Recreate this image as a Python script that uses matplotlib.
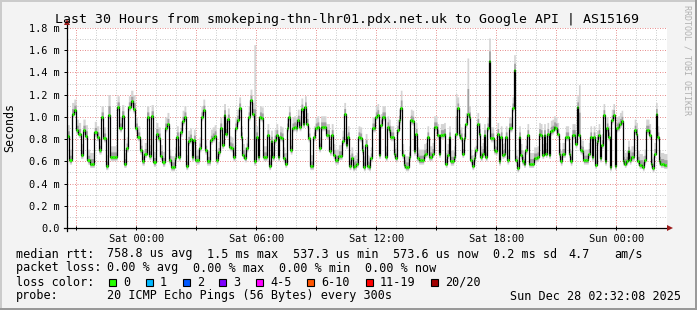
import numpy as np
import pandas as pd
import matplotlib
matplotlib.use('Agg')
import matplotlib.pyplot as plt
import matplotlib.dates as mdates
from matplotlib.lines import Line2D
from matplotlib.patches import Rectangle

W, H = 697, 310
MONO = 'DejaVu Sans Mono'

start = pd.Timestamp('2025-12-26 20:32:08')
end = pd.Timestamp('2025-12-28 02:32:08')

# median rtt in ms, one list per 5 hour block
seg1 = [0.83, 0.61, 1.03, 1.06, 0.88, 0.85, 0.66, 0.88, 0.83, 0.61, 0.58, 0.58, 0.86, 0.82, 0.70,
        1.00, 0.81, 0.56, 1.02, 0.64, 0.64, 0.64, 1.09, 0.90, 1.01, 0.58, 0.72, 1.09, 1.14, 1.07,
        0.90, 0.82, 0.70, 0.60, 0.67, 1.00, 0.65, 1.01, 0.59, 0.85, 0.81, 0.65, 0.59, 0.90]
seg2 = [0.94, 0.61, 0.55, 0.55, 0.63, 0.82, 0.64, 0.86, 0.96, 1.00, 0.56, 0.78, 0.80, 0.64, 0.79,
        0.61, 0.61, 0.72, 1.00, 1.06, 0.70, 0.60, 0.60, 0.79, 0.81, 0.83, 0.61, 0.68, 0.90, 0.75,
        1.02, 0.85, 0.98, 0.73, 0.72, 0.64, 0.90, 0.97, 1.08, 0.82, 0.66, 0.63, 0.72, 1.00, 1.15,
        1.03, 0.60, 0.82, 0.64, 1.00, 0.99, 0.64, 0.64]
seg3 = [0.84, 0.56, 0.78, 0.64, 0.79, 0.84, 0.64, 0.82, 0.81, 0.63, 0.58, 0.90, 1.00, 0.70, 0.90,
        0.91, 0.90, 0.97, 0.91, 1.07, 0.94, 1.09, 0.94, 0.81, 0.56, 0.56, 0.82, 0.90, 0.91, 0.72,
        0.91, 0.91, 0.91, 0.84, 0.84, 0.69, 0.84, 0.66, 0.61, 0.61, 0.65, 0.65, 0.78, 1.03, 0.75,
        0.82, 0.56, 0.63, 0.55, 0.56, 0.58, 0.82, 0.81, 0.70, 0.55, 0.75]
seg4 = [0.56, 0.55, 0.63, 0.90, 0.90, 1.00, 1.02, 0.66, 0.93, 1.00, 1.00, 0.64, 0.91, 0.88, 0.82,
        0.82, 0.67, 0.63, 0.88, 0.97, 1.08, 0.66, 0.57, 0.55, 0.55, 0.64, 0.97, 0.96, 0.69, 0.85,
        0.63, 0.61, 0.61, 0.61, 0.66, 0.67, 0.82, 0.64, 0.64, 0.67, 0.91, 0.91, 0.84, 0.67, 0.84,
        0.84, 0.85, 0.58, 0.66, 0.82, 0.60, 0.60, 0.64, 0.85, 1.08, 0.84, 0.81, 0.67, 0.81, 0.94]
seg5 = [1.03, 1.00, 0.61, 0.56, 0.63, 0.70, 0.94, 0.85, 0.64, 0.67, 0.84, 0.64, 0.90, 1.50, 0.81,
        0.81, 0.70, 0.69, 0.85, 0.60, 0.82, 0.66, 0.67, 0.82, 0.61, 0.90, 0.90, 1.08, 1.42, 0.61,
        0.54, 0.82, 0.66, 0.60, 0.58, 0.70, 0.84, 0.58, 0.58, 0.58, 0.63, 0.63, 0.64, 0.85, 0.84,
        0.66, 0.84, 0.67, 0.85, 0.66, 0.87, 0.88, 0.91, 0.90, 0.85, 0.67, 0.60, 0.67, 0.67, 0.82]
seg6 = [0.82, 0.67, 0.60, 0.84, 0.84, 0.76, 1.09, 0.84, 0.70, 0.69, 0.61, 0.61, 0.61, 0.67, 0.82,
        0.64, 0.82, 0.57, 0.78, 0.84, 0.63, 0.75, 1.02, 0.60, 0.90, 0.82, 0.55, 0.97, 1.02, 0.56,
        0.90, 0.91, 0.94, 0.96, 0.60, 0.58, 0.60, 0.69, 0.61, 0.64, 0.64, 0.88, 0.85, 0.60, 0.57,
        0.57, 0.55, 0.61, 0.88, 0.88, 0.84, 0.58, 0.54, 0.67, 1.03, 0.82, 0.60, 0.58, 0.58, 0.57, 0.57]
segments = [seg1, seg2, seg3, seg4, seg5, seg6]

# tall smoke (max ping) where it stands out
spike_times = ['2025-12-26 22:38', '2025-12-26 23:50', '2025-12-27 05:50', '2025-12-27 13:11',
               '2025-12-27 15:59', '2025-12-27 16:32', '2025-12-27 17:35', '2025-12-27 18:52',
               '2025-12-27 22:05']
spike_tops = [1.20, 1.20, 1.65, 1.24, 1.21, 1.53, 1.71, 1.56, 1.29]

ytick_vals = [0.0, 0.2, 0.4, 0.6, 0.8, 1.0, 1.2, 1.4, 1.6, 1.8]
ytick_labels = ['0.0'] + ['%.1f m' % v for v in ytick_vals[1:]]

title = 'Last 30 Hours from smokeping-thn-lhr01.pdx.net.uk to Google API | AS15169'
loss_labels = ['0', '1', '2', '3', '4-5', '6-10', '11-19', '20/20']
loss_colors = ['#26ff00', '#00b8ff', '#0059ff', '#7e00ff', '#ff00ff', '#ff5500', '#ff0000', '#a10000']

# build time axis: each block spans 5 hours
times, med = [], []
for i, seg in enumerate(segments):
    t0 = start + pd.Timedelta(hours=5 * i)
    step = pd.Timedelta(hours=5) / len(seg)
    for k, v in enumerate(seg):
        times.append(t0 + step * k)
        med.append(v)
times.append(end)
med.append(med[-1])
t = pd.DatetimeIndex(times)
med = np.array(med)
tn = mdates.date2num(t.to_pydatetime())

hi = med + 0.10
lo = med - 0.035
for st, top in zip(spike_times, spike_tops):
    j = int(np.argmin(np.abs(tn[:-1] - mdates.date2num(pd.Timestamp(st)))))
    hi[j] = max(hi[j], top)

fig = plt.figure(figsize=(W / 100, H / 100), dpi=100)
fig.patch.set_facecolor('#f3f3f3')

def fx(x):
    return x / W

def fy(y):
    return 1 - y / H

ax = fig.add_axes([fx(67), fy(228), 600 / W, 200 / H])
ax.set_facecolor('white')
ax.set_xlim(tn[0], tn[-1])
ax.set_ylim(0, 1.8)
for s in ax.spines.values():
    s.set_visible(False)

# grid
for v in np.arange(0.1, 1.81, 0.1):
    major = abs(v / 0.2 - round(v / 0.2)) < 1e-6
    ax.axhline(v, color='#e89090' if major else '#cccccc', lw=0.72,
               ls=(0, (1, 1.5)), zorder=1)
hours = pd.date_range(start.ceil('h'), end, freq='h')
for h in hours:
    major = h.hour % 3 == 0
    ax.axvline(mdates.date2num(h.to_pydatetime()), color='#e89090' if major else '#cccccc',
               lw=0.72, ls=(0, (1, 1.5)), zorder=1)

# smoke
mid = med + 0.45 * (hi - med)
ax.fill_between(tn, lo, hi, step='post', color='#d4d4d4', lw=0, zorder=2)
ax.fill_between(tn, med - 0.02, np.maximum(mid, med + 0.04), step='post', color='#a0a0a0', lw=0, zorder=3)

# median
ax.plot(tn, med, drawstyle='steps-post', color='black', lw=0.9, zorder=5)
ax.hlines(med[:-1], tn[:-1], tn[1:], color='#26ff00', lw=2.0, zorder=6)

# ticks
ax.set_yticks(ytick_vals)
ax.set_yticklabels(ytick_labels, family=MONO, fontsize=7.4)
ax.xaxis.set_major_locator(mdates.HourLocator(byhour=range(0, 24, 3)))
def xfmt(x, pos):
    d = mdates.num2date(x)
    return d.strftime('%a %H:%M') if d.hour % 6 == 0 else ''
ax.xaxis.set_major_formatter(plt.FuncFormatter(xfmt))
ax.tick_params(axis='y', length=2.2, width=0.72, pad=3)
ax.tick_params(axis='x', length=2.2, width=0.72, pad=3, direction='inout')
for lab in ax.get_xticklabels():
    lab.set_family(MONO)
    lab.set_fontsize(7.4)

# axis lines and arrows
fig.add_artist(Line2D([fx(64), fx(668)], [fy(228), fy(228)], color='black', lw=0.9))
fig.add_artist(Line2D([fx(67), fx(67)], [fy(231), fy(24)], color='black', lw=0.9))
fig.add_artist(Line2D([fx(670)], [fy(228)], marker='>', ms=4.5, color='#9c1c1c', mew=0))
fig.add_artist(Line2D([fx(67)], [fy(22)], marker='^', ms=4.5, color='#9c1c1c', mew=0))

# border shading
fig.add_artist(Rectangle((0, fy(2)), 1, 2 / H, transform=fig.transFigure, color='#cbcbcb', lw=0))
fig.add_artist(Rectangle((0, 0), 2 / W, 1, transform=fig.transFigure, color='#cbcbcb', lw=0))
fig.add_artist(Rectangle((fx(695), 0), 2 / W, 1, transform=fig.transFigure, color='#999999', lw=0))
fig.add_artist(Rectangle((0, 0), 1, 2 / H, transform=fig.transFigure, color='#999999', lw=0))

# texts
fig.text(fx(347), fy(19), title, family=MONO, fontsize=9.5, ha='center', va='center')
fig.text(fx(10), fy(128), 'Seconds', family=MONO, fontsize=8.4, rotation=90, ha='center', va='center')
fig.text(fx(687), fy(5), 'RRDTOOL / TOBI OETIKER', family=MONO, fontsize=6, rotation=270,
         ha='center', va='top', color='#b0b0b0')

LEG = 8.5
row1 = [(16, 'median rtt:'), (107, '758.8 us avg'), (207, '1.5 ms max'), (293, '537.3 us min'),
        (393, '573.6 us now'), (493, '0.2 ms sd'), (568, '4.7'), (614, 'am/s')]
row2 = [(16, 'packet loss:'), (107, '0.00 % avg'), (193, '0.00 % max'), (279, '0.00 % min'),
        (365, '0.00 % now')]
for x, s in row1:
    fig.text(fx(x), fy(254), s, family=MONO, fontsize=LEG, ha='left', va='center')
for x, s in row2:
    fig.text(fx(x), fy(268), s, family=MONO, fontsize=LEG, ha='left', va='center')

fig.text(fx(16), fy(282), 'loss color:', family=MONO, fontsize=LEG, ha='left', va='center')
box_x = [109, 146, 183, 219, 256, 307, 366, 431]
for x, lab, c in zip(box_x, loss_labels, loss_colors):
    fig.add_artist(Rectangle((fx(x), fy(285.5)), 7 / W, 7 / H, transform=fig.transFigure,
                             facecolor=c, edgecolor='black', lw=0.8))
    fig.text(fx(x + 14), fy(282), lab, family=MONO, fontsize=LEG, ha='left', va='center')

fig.text(fx(16), fy(296), 'probe:', family=MONO, fontsize=LEG, ha='left', va='center')
fig.text(fx(107), fy(296), '20 ICMP Echo Pings (56 Bytes) every 300s', family=MONO, fontsize=LEG,
         ha='left', va='center')
fig.text(fx(681), fy(296), 'Sun Dec 28 02:32:08 2025', family=MONO, fontsize=LEG, ha='right', va='center')

fig.savefig('out.png', dpi=100, facecolor=fig.get_facecolor())
